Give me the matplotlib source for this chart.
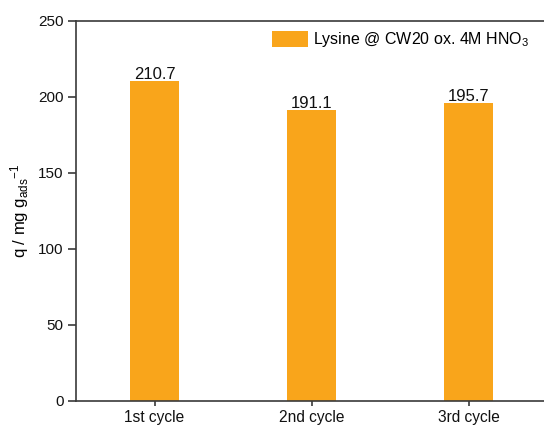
import numpy as np
import matplotlib
matplotlib.use("Agg")
import matplotlib.pyplot as plt

cycles = ["1st cycle", "2nd cycle", "3rd cycle"]
uptake = [210.7, 191.1, 195.7]
series_label = "Lysine @ CW20 ox. 4M HNO$_3$"

plt.rcParams["font.family"] = ["Liberation Sans", "DejaVu Sans"]
plt.rcParams["mathtext.fontset"] = "custom"
plt.rcParams["mathtext.rm"] = "Liberation Sans"
plt.rcParams["mathtext.it"] = "Liberation Sans:italic"
plt.rcParams["font.size"] = 11

fig = plt.figure(figsize=(5.44, 4.28), dpi=100)
# right spine sits just outside the canvas
ax = fig.add_axes([76 / 544, 27.3 / 428, 471 / 544, 379.7 / 428])

x = np.arange(len(cycles))
ax.bar(x, uptake, width=0.306, color="#F9A51B", label=series_label)

for xi, v in zip(x, uptake):
    ax.annotate(f"{v:.1f}", (xi, v), xytext=(0, 2), textcoords="offset pixels",
                ha="center", va="baseline", fontsize=12, color="#111111")

ax.set_xlim(-0.5, 2.5)
ax.set_ylim(0, 250)
ax.set_yticks([0, 50, 100, 150, 200, 250])
ax.set_xticks(x)
ax.set_xticklabels(cycles)

for s in ["left", "bottom", "top"]:
    ax.spines[s].set_linewidth(1.2)
    ax.spines[s].set_color("#3a3a3a")
ax.spines["right"].set_visible(False)
ax.tick_params(axis="both", direction="out", width=1.2, color="#3a3a3a",
               labelsize=11, labelcolor="#111111")
ax.tick_params(axis="y", length=5.5, pad=3.5)
ax.tick_params(axis="x", length=3.5, pad=3, labelsize=11.2)

ax.set_ylabel("q / mg g$_{\\mathrm{ads}}$$^{\\mathrm{-1}}$", fontsize=12, labelpad=5)

ax.legend(loc="upper left", bbox_to_anchor=(185 / 471, 1.005), frameon=False,
          handlelength=2.25, handleheight=1.2, handletextpad=0.3,
          borderaxespad=0.3, fontsize=11.5)

fig.savefig("out.png", dpi=100)
